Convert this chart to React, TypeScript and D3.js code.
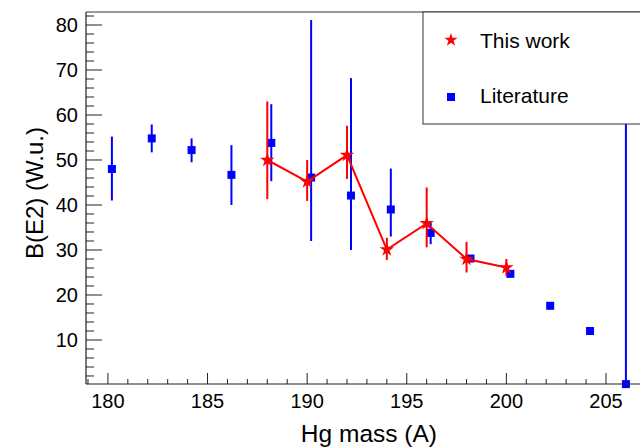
import React from "react";
import * as d3 from "d3";

const litMass = [180.2, 182.2, 184.2, 186.2, 188.2, 190.2, 192.2, 194.2, 196.2, 198.2, 200.2, 202.2, 204.2, 206.0];
const litBE2 = [48.0, 54.8, 52.2, 46.7, 53.8, 46.1, 42.1, 39.0, 33.8, 28.1, 24.7, 17.6, 12.0, 0.2];
const litErrUp = [7.2, 3.1, 2.6, 6.6, 8.6, 35.0, 26.1, 9.1, 2.2, 0.5, 0.3, 0.3, 0.3, 100];
const litErrDown = [7.0, 3.1, 2.7, 6.7, 8.5, 14.1, 12.1, 6.0, 2.5, 0.5, 0.3, 0.3, 0.3, 0];

const thisMass = [188, 190, 192, 194, 196, 198, 200];
const thisBE2 = [50.0, 45.2, 51.1, 30.1, 35.9, 28.0, 26.1];
const thisErrUp = [13.0, 4.8, 6.5, 2.6, 8.0, 3.8, 1.9];
const thisErrDown = [8.7, 4.3, 5.3, 2.3, 5.3, 3.0, 1.8];

const xTicks = [180, 185, 190, 195, 200, 205];
const yTicks = [10, 20, 30, 40, 50, 60, 70, 80];
const legendLabels = ["This work", "Literature"];

const W = 640;
const H = 448;
const FONT = "'Liberation Sans', Arial, Helvetica, sans-serif";
const RED = "#ff0000";
const BLUE = "#0000ff";

const left = 86, right = 655, top = 12, bottom = 384;

const x = d3.scaleLinear().domain([178.9, 207.46]).range([left, right]);
const y = d3.scaleLinear().domain([0.22, 82.89]).range([bottom, top]);

const starPath = d3.symbol().type(d3.symbolStar).size(65)();
const starLegendPath = d3.symbol().type(d3.symbolStar).size(55)();

export default function App() {
  const minorX = d3.range(179, 208, 1).filter((v) => x(v) >= left && x(v) <= W);
  const minorY = d3.range(2, 83, 2);
  const line = d3
    .line<number>()
    .x((_, i) => x(thisMass[i]))
    .y((d) => y(d));

  return (
    <svg
      width={W}
      height={H}
      style={{ position: "absolute", left: 0, top: 0, background: "#fff" }}
      fontFamily={FONT}
    >
      <defs>
        <clipPath id="frame">
          <rect x={left} y={top} width={right - left} height={bottom - top} />
        </clipPath>
      </defs>
      <rect x={0} y={0} width={W} height={H} fill="#fff" />

      {/* y ticks */}
      {minorY.map((v) => {
        const major = v % 10 === 0;
        return (
          <line
            key={"ym" + v}
            x1={left}
            x2={left + (major ? 16 : 8)}
            y1={y(v)}
            y2={y(v)}
            stroke="#222"
            strokeWidth={1}
          />
        );
      })}
      {/* x ticks */}
      {minorX.map((v) => {
        const major = v % 5 === 0;
        return (
          <line
            key={"xm" + v}
            x1={x(v)}
            x2={x(v)}
            y1={bottom}
            y2={bottom - (major ? 11 : 5)}
            stroke="#222"
            strokeWidth={1}
          />
        );
      })}

      {/* data */}
      <g clipPath="url(#frame)">
        {litMass.map((m, i) => (
          <line
            key={"le" + i}
            x1={x(m)}
            x2={x(m)}
            y1={y(litBE2[i] + litErrUp[i])}
            y2={y(litBE2[i] - litErrDown[i])}
            stroke={BLUE}
            strokeWidth={2}
          />
        ))}
      </g>
      {litMass.map((m, i) => (
        <rect
          key={"ls" + i}
          x={x(m) - 4}
          y={y(litBE2[i]) - 4}
          width={8}
          height={8}
          fill={BLUE}
        />
      ))}
      <g clipPath="url(#frame)">
        {thisMass.map((m, i) => (
          <line
            key={"te" + i}
            x1={x(m)}
            x2={x(m)}
            y1={y(thisBE2[i] + thisErrUp[i])}
            y2={y(thisBE2[i] - thisErrDown[i])}
            stroke={RED}
            strokeWidth={2}
          />
        ))}
        <path d={line(thisBE2) || ""} fill="none" stroke={RED} strokeWidth={2} />
      </g>
      {thisMass.map((m, i) => (
        <path
          key={"ts" + i}
          d={starPath || ""}
          transform={`translate(${x(m)},${y(thisBE2[i])})`}
          fill={RED}
        />
      ))}

      {/* frame */}
      <line x1={left} x2={W + 20} y1={top} y2={top} stroke="#333" strokeWidth={1} />
      <line x1={left} x2={left} y1={top} y2={bottom} stroke="#222" strokeWidth={1.2} />
      <line x1={left} x2={W + 20} y1={bottom} y2={bottom} stroke="#222" strokeWidth={1.2} />

      {/* tick labels */}
      {yTicks.map((v) => (
        <text
          key={"yl" + v}
          x={78}
          y={y(v)}
          dy="0.35em"
          textAnchor="end"
          fontSize={20}
          fill="#000"
        >
          {v}
        </text>
      ))}
      {xTicks.map((v) => (
        <text
          key={"xl" + v}
          x={x(v)}
          y={408}
          textAnchor="middle"
          fontSize={20}
          fill="#000"
        >
          {v}
        </text>
      ))}

      {/* axis titles */}
      <text x={437} y={442} textAnchor="end" fontSize={24.5} fill="#000">
        Hg mass (A)
      </text>
      <text
        transform="translate(43,127) rotate(-90)"
        textAnchor="end"
        fontSize={24}
        fill="#000"
      >
        B(E2) (W.u.)
      </text>

      {/* legend */}
      <rect x={423} y={top} width={260} height={112} fill="#fff" stroke="#333" strokeWidth={1} />
      <path d={starLegendPath || ""} transform="translate(451,40)" fill={RED} />
      <rect x={447} y={93} width={8} height={8} fill={BLUE} />
      <text x={480} y={47.5} fontSize={21} fill="#000">
        {legendLabels[0]}
      </text>
      <text x={480} y={103} fontSize={21} fill="#000">
        {legendLabels[1]}
      </text>
    </svg>
  );
}
